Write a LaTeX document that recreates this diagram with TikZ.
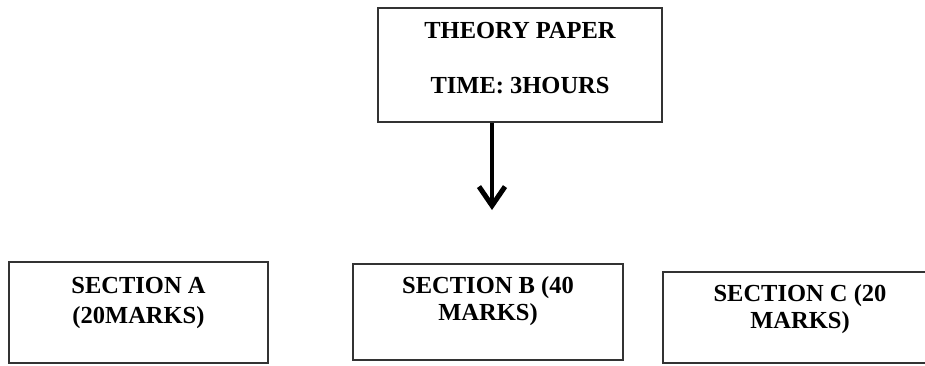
\documentclass[tikz,border=0pt]{standalone}
\usepackage{fontspec}
\setmainfont{Liberation Serif}
\usetikzlibrary{arrows.meta}

\begin{document}
\begin{tikzpicture}[x=1pt,y=-1pt,
	box/.style={draw=black!80, line width=1.4pt, rectangle, align=center,
		font=\bfseries\fontsize{24.5}{27}\selectfont, inner sep=0pt},
	down/.style={-{Straight Barb[length=19pt,width=26pt,line width=5pt]}, line width=4pt}]
	\useasboundingbox (0,0) rectangle (925,365);

	\node[box, minimum width=284pt, minimum height=114pt, text depth=15pt] (paper) at (520,65) {THEORY PAPER\\[28pt]TIME: 3HOURS};

	\node[box, minimum width=259pt, minimum height=101pt, text depth=25pt] (secA) at (138.5,312.5) {SECTION A\\[3pt](20MARKS)};
	\node[box, minimum width=270pt, minimum height=96pt, text depth=27.5pt] (secB) at (488,312) {SECTION B (40\\MARKS)};
	\node[box, minimum width=274pt, minimum height=91pt, text depth=22.5pt] (secC) at (800,317.5) {SECTION C (20\\MARKS)};

	\coordinate (tip) at (492,210);
	\draw [down] (paper.south -| tip) -- (tip);

\end{tikzpicture}
\end{document}
